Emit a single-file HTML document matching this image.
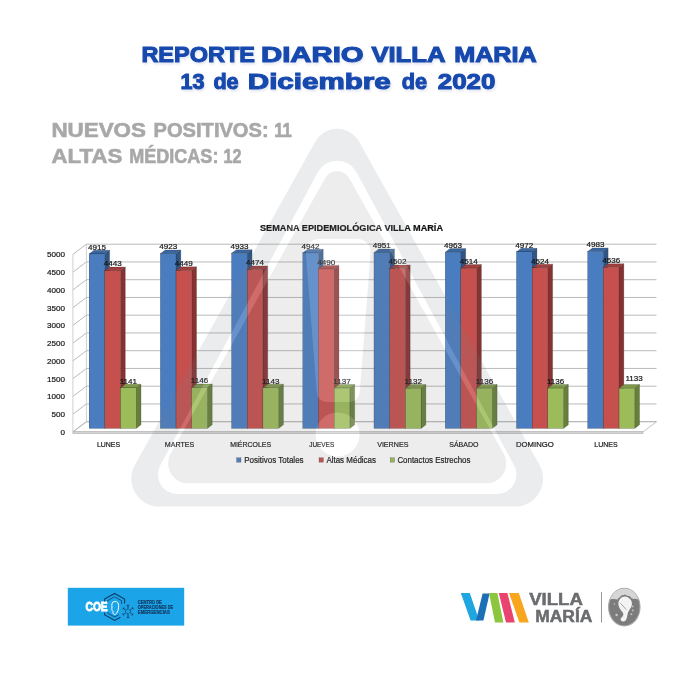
<!DOCTYPE html>
<html lang="es">
<head>
<meta charset="utf-8">
<title>Reporte diario Villa María</title>
<style>
html,body{margin:0;padding:0;background:#ffffff;}
body{width:675px;height:675px;overflow:hidden;font-family:"Liberation Sans",sans-serif;}
svg{display:block;}
svg text{font-family:"Liberation Sans",sans-serif;}
</style>
</head>
<body>
<svg width="675" height="675" viewBox="0 0 675 675">
<defs>
<filter id="ts" x="-5%" y="-30%" width="110%" height="170%"><feGaussianBlur in="SourceAlpha" stdDeviation="1.3" result="b"/><feOffset in="b" dx="1" dy="1.5" result="o"/><feFlood flood-color="#7f93c4" flood-opacity="0.22"/><feComposite in2="o" operator="in"/><feMerge><feMergeNode/><feMergeNode in="SourceGraphic"/></feMerge></filter>
</defs>
<rect width="675" height="675" fill="#ffffff"/>

<!-- heading -->
<g font-weight="bold" fill="#1849ae" stroke="#1849ae" stroke-width="1.05" font-size="21.6" filter="url(#ts)" lengthAdjust="spacingAndGlyphs">
<text x="141.4" y="61.5" textLength="113.6" lengthAdjust="spacingAndGlyphs">REPORTE</text>
<text x="261" y="61.5" textLength="102.6" lengthAdjust="spacingAndGlyphs">DIARIO</text>
<text x="371.4" y="61.5" textLength="74" lengthAdjust="spacingAndGlyphs">VILLA</text>
<text x="454.2" y="61.5" textLength="82.6" lengthAdjust="spacingAndGlyphs">MARIA</text>
<text x="180.4" y="89.3">13</text>
<text x="213.4" y="89.3">de</text>
<text x="247.8" y="89.3" textLength="143" lengthAdjust="spacingAndGlyphs">Diciembre</text>
<text x="401.8" y="89.3">de</text>
<text x="437.8" y="89.3" textLength="57.6" lengthAdjust="spacingAndGlyphs">2020</text>
</g>
<g font-weight="bold" fill="#a8a8a8" stroke="#a8a8a8" stroke-width="0.6" font-size="19.4">
<text x="51.4" y="137.1" textLength="94.6" lengthAdjust="spacingAndGlyphs">NUEVOS</text>
<text x="153.6" y="137.1" textLength="115" lengthAdjust="spacingAndGlyphs">POSITIVOS:</text>
<text x="274.2" y="137.1" textLength="17.6" lengthAdjust="spacingAndGlyphs">11</text>
<text x="51.6" y="163.3" textLength="70.6" lengthAdjust="spacingAndGlyphs">ALTAS</text>
<text x="129.2" y="163.3" textLength="89.2" lengthAdjust="spacingAndGlyphs">MÉDICAS:</text>
<text x="223.4" y="163.3" textLength="18" lengthAdjust="spacingAndGlyphs">12</text>
</g>

<!-- chart -->
<g font-size="8.1" fill="#151515" stroke="#151515" stroke-width="0.2">
<polygon points="72.9,431.9 643,431.9 656.5,421.7 86.4,421.7" fill="#ffffff" stroke="#b4b4b4" stroke-width="0.8"/>
<polygon points="72.9,431.9 643,431.9 643,433.5 72.9,433.5" fill="#e4e4e4"/>
<path d="M72.9 431.9L86.4 421.7L656.5 421.7M72.9 414.15L86.4 403.95L656.5 403.95M72.9 396.4L86.4 386.2L656.5 386.2M72.9 378.65L86.4 368.45L656.5 368.45M72.9 360.9L86.4 350.7L656.5 350.7M72.9 343.15L86.4 332.95L656.5 332.95M72.9 325.4L86.4 315.2L656.5 315.2M72.9 307.65L86.4 297.45L656.5 297.45M72.9 289.9L86.4 279.7L656.5 279.7M72.9 272.15L86.4 261.95L656.5 261.95M72.9 254.4L86.4 244.2L656.5 244.2" fill="none" stroke="#b2b2b2" stroke-width="0.9"/>
<path d="M72.9 254.4V431.9M86.4 244.2V421.7" fill="none" stroke="#c4c4c4" stroke-width="0.8"/>
<text x="65" y="434.8" text-anchor="end">0</text>
<text x="65" y="417.05" text-anchor="end">500</text>
<text x="65" y="399.3" text-anchor="end">1000</text>
<text x="65" y="381.55" text-anchor="end">1500</text>
<text x="65" y="363.8" text-anchor="end">2000</text>
<text x="65" y="346.05" text-anchor="end">2500</text>
<text x="65" y="328.3" text-anchor="end">3000</text>
<text x="65" y="310.55" text-anchor="end">3500</text>
<text x="65" y="292.8" text-anchor="end">4000</text>
<text x="65" y="275.05" text-anchor="end">4500</text>
<text x="65" y="257.3" text-anchor="end">5000</text>
<polygon points="104.8,253.92 109.6,250.32 109.6,424.8 104.8,428.4" fill="#2f5686"/>
<polygon points="89.1,253.92 93.9,250.32 109.6,250.32 104.8,253.92" fill="#3a679f"/>
<rect x="89.1" y="253.92" width="15.7" height="174.48" fill="#4a7dc0"/>
<polygon points="120.5,270.67 125.3,267.07 125.3,424.8 120.5,428.4" fill="#873231"/>
<polygon points="104.8,270.67 109.6,267.07 125.3,267.07 120.5,270.67" fill="#a03f3d"/>
<rect x="104.8" y="270.67" width="15.7" height="157.73" fill="#c6504e"/>
<polygon points="136.2,387.89 141,384.29 141,424.8 136.2,428.4" fill="#66803a"/>
<polygon points="120.5,387.89 125.3,384.29 141,384.29 136.2,387.89" fill="#7f9a48"/>
<rect x="120.5" y="387.89" width="15.7" height="40.51" fill="#9cbc5a"/>
<polygon points="176.02,253.63 180.82,250.03 180.82,424.8 176.02,428.4" fill="#2f5686"/>
<polygon points="160.32,253.63 165.12,250.03 180.82,250.03 176.02,253.63" fill="#3a679f"/>
<rect x="160.32" y="253.63" width="15.7" height="174.77" fill="#4a7dc0"/>
<polygon points="191.72,270.46 196.52,266.86 196.52,424.8 191.72,428.4" fill="#873231"/>
<polygon points="176.02,270.46 180.82,266.86 196.52,266.86 191.72,270.46" fill="#a03f3d"/>
<rect x="176.02" y="270.46" width="15.7" height="157.94" fill="#c6504e"/>
<polygon points="207.42,387.72 212.22,384.12 212.22,424.8 207.42,428.4" fill="#66803a"/>
<polygon points="191.72,387.72 196.52,384.12 212.22,384.12 207.42,387.72" fill="#7f9a48"/>
<rect x="191.72" y="387.72" width="15.7" height="40.68" fill="#9cbc5a"/>
<polygon points="247.24,253.28 252.04,249.68 252.04,424.8 247.24,428.4" fill="#2f5686"/>
<polygon points="231.54,253.28 236.34,249.68 252.04,249.68 247.24,253.28" fill="#3a679f"/>
<rect x="231.54" y="253.28" width="15.7" height="175.12" fill="#4a7dc0"/>
<polygon points="262.94,269.57 267.74,265.97 267.74,424.8 262.94,428.4" fill="#873231"/>
<polygon points="247.24,269.57 252.04,265.97 267.74,265.97 262.94,269.57" fill="#a03f3d"/>
<rect x="247.24" y="269.57" width="15.7" height="158.83" fill="#c6504e"/>
<polygon points="278.64,387.82 283.44,384.22 283.44,424.8 278.64,428.4" fill="#66803a"/>
<polygon points="262.94,387.82 267.74,384.22 283.44,384.22 278.64,387.82" fill="#7f9a48"/>
<rect x="262.94" y="387.82" width="15.7" height="40.58" fill="#9cbc5a"/>
<polygon points="318.46,252.96 323.26,249.36 323.26,424.8 318.46,428.4" fill="#2f5686"/>
<polygon points="302.76,252.96 307.56,249.36 323.26,249.36 318.46,252.96" fill="#3a679f"/>
<rect x="302.76" y="252.96" width="15.7" height="175.44" fill="#4a7dc0"/>
<polygon points="334.16,269 338.96,265.4 338.96,424.8 334.16,428.4" fill="#873231"/>
<polygon points="318.46,269 323.26,265.4 338.96,265.4 334.16,269" fill="#a03f3d"/>
<rect x="318.46" y="269" width="15.7" height="159.39" fill="#c6504e"/>
<polygon points="349.86,388.04 354.66,384.44 354.66,424.8 349.86,428.4" fill="#66803a"/>
<polygon points="334.16,388.04 338.96,384.44 354.66,384.44 349.86,388.04" fill="#7f9a48"/>
<rect x="334.16" y="388.04" width="15.7" height="40.36" fill="#9cbc5a"/>
<polygon points="389.68,252.64 394.48,249.04 394.48,424.8 389.68,428.4" fill="#2f5686"/>
<polygon points="373.98,252.64 378.78,249.04 394.48,249.04 389.68,252.64" fill="#3a679f"/>
<rect x="373.98" y="252.64" width="15.7" height="175.76" fill="#4a7dc0"/>
<polygon points="405.38,268.58 410.18,264.98 410.18,424.8 405.38,428.4" fill="#873231"/>
<polygon points="389.68,268.58 394.48,264.98 410.18,264.98 405.38,268.58" fill="#a03f3d"/>
<rect x="389.68" y="268.58" width="15.7" height="159.82" fill="#c6504e"/>
<polygon points="421.08,388.21 425.88,384.61 425.88,424.8 421.08,428.4" fill="#66803a"/>
<polygon points="405.38,388.21 410.18,384.61 425.88,384.61 421.08,388.21" fill="#7f9a48"/>
<rect x="405.38" y="388.21" width="15.7" height="40.19" fill="#9cbc5a"/>
<polygon points="460.9,252.21 465.7,248.61 465.7,424.8 460.9,428.4" fill="#2f5686"/>
<polygon points="445.2,252.21 450,248.61 465.7,248.61 460.9,252.21" fill="#3a679f"/>
<rect x="445.2" y="252.21" width="15.7" height="176.19" fill="#4a7dc0"/>
<polygon points="476.6,268.15 481.4,264.55 481.4,424.8 476.6,428.4" fill="#873231"/>
<polygon points="460.9,268.15 465.7,264.55 481.4,264.55 476.6,268.15" fill="#a03f3d"/>
<rect x="460.9" y="268.15" width="15.7" height="160.25" fill="#c6504e"/>
<polygon points="492.3,388.07 497.1,384.47 497.1,424.8 492.3,428.4" fill="#66803a"/>
<polygon points="476.6,388.07 481.4,384.47 497.1,384.47 492.3,388.07" fill="#7f9a48"/>
<rect x="476.6" y="388.07" width="15.7" height="40.33" fill="#9cbc5a"/>
<polygon points="532.12,251.89 536.92,248.29 536.92,424.8 532.12,428.4" fill="#2f5686"/>
<polygon points="516.42,251.89 521.22,248.29 536.92,248.29 532.12,251.89" fill="#3a679f"/>
<rect x="516.42" y="251.89" width="15.7" height="176.51" fill="#4a7dc0"/>
<polygon points="547.82,267.8 552.62,264.2 552.62,424.8 547.82,428.4" fill="#873231"/>
<polygon points="532.12,267.8 536.92,264.2 552.62,264.2 547.82,267.8" fill="#a03f3d"/>
<rect x="532.12" y="267.8" width="15.7" height="160.6" fill="#c6504e"/>
<polygon points="563.52,388.07 568.32,384.47 568.32,424.8 563.52,428.4" fill="#66803a"/>
<polygon points="547.82,388.07 552.62,384.47 568.32,384.47 563.52,388.07" fill="#7f9a48"/>
<rect x="547.82" y="388.07" width="15.7" height="40.33" fill="#9cbc5a"/>
<polygon points="603.34,251.5 608.14,247.9 608.14,424.8 603.34,428.4" fill="#2f5686"/>
<polygon points="587.64,251.5 592.44,247.9 608.14,247.9 603.34,251.5" fill="#3a679f"/>
<rect x="587.64" y="251.5" width="15.7" height="176.9" fill="#4a7dc0"/>
<polygon points="619.04,267.37 623.84,263.77 623.84,424.8 619.04,428.4" fill="#873231"/>
<polygon points="603.34,267.37 608.14,263.77 623.84,263.77 619.04,267.37" fill="#a03f3d"/>
<rect x="603.34" y="267.37" width="15.7" height="161.03" fill="#c6504e"/>
<polygon points="634.74,388.18 639.54,384.58 639.54,424.8 634.74,428.4" fill="#66803a"/>
<polygon points="619.04,388.18 623.84,384.58 639.54,384.58 634.74,388.18" fill="#7f9a48"/>
<rect x="619.04" y="388.18" width="15.7" height="40.22" fill="#9cbc5a"/>
<text x="96.95" y="249.67" text-anchor="middle">4915</text>
<text x="112.65" y="266.42" text-anchor="middle">4443</text>
<text x="128.35" y="383.64" text-anchor="middle">1141</text>
<text x="168.17" y="249.38" text-anchor="middle">4923</text>
<text x="183.87" y="266.21" text-anchor="middle">4449</text>
<text x="199.57" y="383.47" text-anchor="middle">1146</text>
<text x="239.39" y="249.03" text-anchor="middle">4933</text>
<text x="255.09" y="265.32" text-anchor="middle">4474</text>
<text x="270.79" y="383.57" text-anchor="middle">1143</text>
<text x="310.61" y="248.71" text-anchor="middle">4942</text>
<text x="326.31" y="264.75" text-anchor="middle">4490</text>
<text x="342.01" y="383.79" text-anchor="middle">1137</text>
<text x="381.83" y="248.39" text-anchor="middle">4951</text>
<text x="397.53" y="264.33" text-anchor="middle">4502</text>
<text x="413.23" y="383.96" text-anchor="middle">1132</text>
<text x="453.05" y="247.96" text-anchor="middle">4963</text>
<text x="468.75" y="263.9" text-anchor="middle">4514</text>
<text x="484.45" y="383.82" text-anchor="middle">1136</text>
<text x="524.27" y="247.64" text-anchor="middle">4972</text>
<text x="539.97" y="263.55" text-anchor="middle">4524</text>
<text x="555.67" y="383.82" text-anchor="middle">1136</text>
<text x="595.49" y="247.25" text-anchor="middle">4983</text>
<text x="611.19" y="263.12" text-anchor="middle">4536</text>
<text x="634.09" y="380.53" text-anchor="middle">1133</text>
<text x="108.5" y="446.8" text-anchor="middle" textLength="23.2" lengthAdjust="spacingAndGlyphs">LUNES</text>
<text x="179.57" y="446.8" text-anchor="middle" textLength="29.4" lengthAdjust="spacingAndGlyphs">MARTES</text>
<text x="250.64" y="446.8" text-anchor="middle" textLength="41" lengthAdjust="spacingAndGlyphs">MIÉRCOLES</text>
<text x="321.71" y="446.8" text-anchor="middle" textLength="25" lengthAdjust="spacingAndGlyphs">JUEVES</text>
<text x="392.78" y="446.8" text-anchor="middle" textLength="31.3" lengthAdjust="spacingAndGlyphs">VIERNES</text>
<text x="463.85" y="446.8" text-anchor="middle" textLength="29.2" lengthAdjust="spacingAndGlyphs">SÁBADO</text>
<text x="534.92" y="446.8" text-anchor="middle" textLength="37.8" lengthAdjust="spacingAndGlyphs">DOMINGO</text>
<text x="605.99" y="446.8" text-anchor="middle" textLength="23.4" lengthAdjust="spacingAndGlyphs">LUNES</text>
<rect x="236.6" y="457.8" width="4.4" height="4.4" fill="#4a7dc0"/>
<text x="244.2" y="462.9" font-size="8.5" textLength="59.4" lengthAdjust="spacingAndGlyphs">Positivos Totales</text>
<rect x="319" y="457.8" width="4.4" height="4.4" fill="#c6504e"/>
<text x="326.4" y="462.9" font-size="8.5" textLength="49.6" lengthAdjust="spacingAndGlyphs">Altas Médicas</text>
<rect x="390.2" y="457.8" width="4.4" height="4.4" fill="#9cbc5a"/>
<text x="397.4" y="462.9" font-size="8.5" textLength="73" lengthAdjust="spacingAndGlyphs">Contactos Estrechos</text>
<text x="351.5" y="231.4" text-anchor="middle" font-weight="bold" font-size="9.3" fill="#111" textLength="183" lengthAdjust="spacingAndGlyphs">SEMANA EPIDEMIOLÓGICA VILLA MARÍA</text>
</g>

<!-- watermark -->
<g>
<path fill-rule="evenodd" fill="#787b80" fill-opacity="0.145" d="M159.3 506.6A28 28 0 0 1 134.85 464.95L315.37 141.52A25 25 0 0 1 359.03 141.52L539.55 464.95A28 28 0 0 1 515.1 506.6ZM177.5 494A19.5 19.5 0 0 1 160.32 465.27L317.82 172.28A22 22 0 0 1 356.58 172.28L514.08 465.27A19.5 19.5 0 0 1 496.9 494Z"/>
<path fill-rule="evenodd" fill="#ffffff" fill-opacity="0.16" d="M177.5 494A19.5 19.5 0 0 1 160.32 465.27L317.82 172.28A22 22 0 0 1 356.58 172.28L514.08 465.27A19.5 19.5 0 0 1 496.9 494ZM188.2 483.3A20 20 0 0 1 170.76 453.52L324.99 178.45A14 14 0 0 1 349.41 178.45L503.64 453.52A20 20 0 0 1 486.2 483.3Z"/>
<path fill-rule="evenodd" fill="#787b80" fill-opacity="0.135" d="M188.2 483.3A20 20 0 0 1 170.76 453.52L324.99 178.45A14 14 0 0 1 349.41 178.45L503.64 453.52A20 20 0 0 1 486.2 483.3ZM305.7 252A13 13 0 0 1 318.7 239H357.7A13 13 0 0 1 370.7 252L359.7 392A10 10 0 0 1 349.7 402H326.7A10 10 0 0 1 316.7 392ZM315.6 434.4a22 22 0 1 0 44 0a22 22 0 1 0 -44 0Z"/>
<path fill="#ffffff" fill-opacity="0.16" d="M305.7 252A13 13 0 0 1 318.7 239H357.7A13 13 0 0 1 370.7 252L359.7 392A10 10 0 0 1 349.7 402H326.7A10 10 0 0 1 316.7 392ZM315.6 434.4a22 22 0 1 0 44 0a22 22 0 1 0 -44 0Z"/>
</g>

<!-- LOGOS -->
<!-- COE -->
<g>
<rect x="67.8" y="587.8" width="116.4" height="37.8" fill="#1ca4e8"/>
<text x="85.5" y="611.3" font-size="12" font-weight="bold" fill="#ffffff" stroke="#ffffff" stroke-width="0.8" textLength="22.2" lengthAdjust="spacingAndGlyphs">COE</text>
<path d="M104.6 601.6V599.1L114.6 593.5L124.6 599.1V603.6M104.6 612.4V614.8L114.6 620.4L120.4 617.2" fill="none" stroke="#123a63" stroke-width="1.1"/>
<path d="M107.6 601.6V600.7L114.6 596.8L121.6 600.7V604M107.6 612.4V613.1L114.6 617L118.8 614.8" fill="none" stroke="#123a63" stroke-width="0.8"/>
<path d="M113 602C115.2 600.8 118 601.6 118.4 604C118.8 606.4 118.6 608.8 117.8 610.8C117.2 612.6 116.2 614.6 114.4 614.4C113.2 614.2 112.8 613 113 611.6C111.8 610.6 111.6 608.8 112 607C111.6 605.2 111.8 603 113 602Z" fill="none" stroke="#ffffff" stroke-width="1"/>
<g fill="none" stroke="#123a63" stroke-width="0.9">
<circle cx="128" cy="611.4" r="2.3" stroke-dasharray="1.7 1.1"/>
<path d="M128 608.6V605.4M126.8 605.4H129.2M130.2 610L132.8 608.2M132.2 607.2L133.4 609.2M130.2 612.8L132.6 614.6M132 615.6L133.2 613.6M128 614V617.6M126.8 617.6H129.2M125.8 612.8L123.2 614.6M122.6 613.6L123.8 615.6M125.8 610L123.4 608.4M122.8 609.4L124 607.4"/>
</g>
<g font-size="4.6" font-weight="bold" fill="#123a63" stroke="#123a63" stroke-width="0.18">
<text x="137.8" y="604" textLength="24" lengthAdjust="spacingAndGlyphs">CENTRO DE</text>
<text x="137.8" y="608.7" textLength="35.4" lengthAdjust="spacingAndGlyphs">OPERACIONES DE</text>
<text x="137.8" y="613.5" textLength="32" lengthAdjust="spacingAndGlyphs">EMERGENCIAS</text>
</g>
</g>
<!-- Villa Maria -->
<g>
<polygon points="460.8,592.9 469.8,592.9 479.2,620.6 470.6,620.6" fill="#1fa6e0"/>
<polygon points="482.6,593.4 489.6,593.4 483.4,620.6 476,620.6" fill="#1b6fb7"/>
<polygon points="489,592.9 497.4,592.9 503.4,622.6 495,622.6" fill="#8cc63f"/>
<polygon points="498.8,592.9 507.4,592.9 514.8,622.6 506,622.6" fill="#e8446f"/>
<polygon points="509,592.9 518.8,592.9 528.8,622.6 519.4,622.6" fill="#f9a61f"/>
<g font-weight="bold" fill="#6b6c6f" stroke="#6b6c6f" stroke-width="0.5" font-size="16">
<text x="529.2" y="605.1" textLength="53.6" lengthAdjust="spacingAndGlyphs">VILLA</text>
<text x="535.2" y="622.4" textLength="57.2" lengthAdjust="spacingAndGlyphs">MARÍA</text>
</g>
<path d="M601.5 592V622.6" stroke="#8c8c8c" stroke-width="0.9" fill="none"/>
<ellipse cx="624.3" cy="607.1" rx="15.7" ry="18.8" fill="#7c7c7c" stroke="#a6a6a6" stroke-width="1.1"/>
<path d="M610.2 599.4C612.6 591.8 619 588.6 624.3 588.6C629.6 588.6 636 591.8 638.4 599.4C635.6 598.4 633.4 599.4 631.6 598.2C629.8 596.2 628.6 595.4 627.4 596C626 594.6 624.6 593.6 623.6 595.2C622.4 594.8 621 595.6 620.2 597C618.8 597.6 618 598.4 617.6 599.6C615.4 598.8 612.8 598.6 610.2 599.4Z" fill="#d6d6d6"/>
<path d="M624.4 596.4C627.6 596.6 630 598 631.2 600.4C632.4 602.8 632 605.6 630.8 607.8C629 610.4 628 612.2 627.6 614C627.2 616.2 627 618.6 625.6 620.4C624.4 621.8 622.2 621.8 621 620.6C620.2 619.6 620.6 618.2 621.8 617.2C623 616 623.6 614.8 623.2 613.4C622.6 611.6 620.6 610.4 619.8 608.4C618.4 606 618 603.4 618.8 601C619.6 598.6 621.6 596.6 624.4 596.4Z" fill="#f3f3f3"/>
<path d="M620.4 603.2L626.2 609.6" stroke="#8a8a8a" stroke-width="0.8" fill="none"/>
<g fill="#c9c9c9"><circle cx="632.6" cy="606.4" r="0.9"/><circle cx="632.8" cy="610.4" r="0.9"/><circle cx="631.4" cy="614.2" r="0.9"/><circle cx="616.6" cy="615" r="1.2"/><circle cx="614.4" cy="604" r="0.8"/></g>
</g>

</svg>
</body>
</html>
